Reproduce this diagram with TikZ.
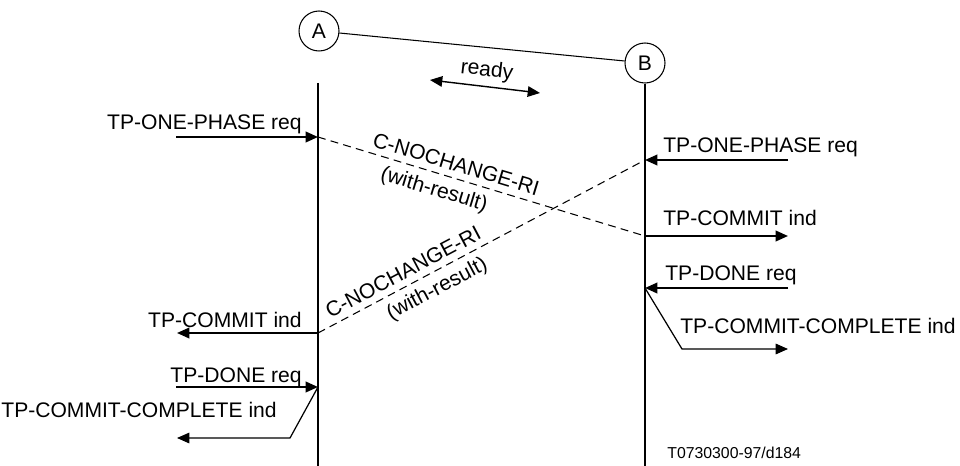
\documentclass[tikz,border=0pt]{standalone}
\usepackage{fontspec}
\setmainfont{Liberation Sans}
\usetikzlibrary{arrows.meta,positioning}
\tikzset{
  ent/.style={circle, draw, line width=0.6pt, minimum size=0.8cm, inner sep=0pt, font=\fontsize{12}{14}\selectfont},
  life/.style={line width=1.1pt},
  msg/.style={-{Triangle[length=7pt,width=6pt]}, line width=1.1pt},
  bent/.style={-{Triangle[length=7pt,width=6pt]}, line width=0.7pt},
  dsh/.style={line width=0.6pt, dash pattern=on 4.5pt off 3pt},
  lab/.style={font=\fontsize{12}{14}\selectfont, inner sep=0pt},
  slab/.style={font=\fontsize{12}{14}\selectfont, inner sep=1pt, sloped},
}
\begin{document}
\begin{tikzpicture}[x=0.02cm, y=-0.02cm]
 \useasboundingbox (0,0) rectangle (960,466);
 % entities and lifelines
 \node[ent] (A) at (319,31) {A};
 \node[ent] (B) at (645,63) {B};
 \draw[line width=0.6pt] (A) -- (B);
 \coordinate (Atop) at (318,83);
 \coordinate (Abot) at (318,466);
 \coordinate (Bbot) at (645,466);
 \draw[life] (Atop) -- (Abot);
 \draw[life] (B.south) -- (Bbot);
 % ready
 \coordinate (rdl) at (430,80);
 \coordinate (rdr) at (540,93);
 \draw[{Triangle[length=7pt,width=6pt]}-{Triangle[length=7pt,width=6pt]}, line width=0.8pt]
   (rdl) -- (rdr) node[midway, sloped, above=3pt, lab] (rdy) {ready};
 % points on lifelines
 \coordinate (l1) at (318,137);
 \coordinate (l2) at (318,333);
 \coordinate (l3) at (318,387);
 \coordinate (r1) at (645,160);
 \coordinate (r2) at (645,236);
 \coordinate (r3) at (645,288);
 % left side
 \coordinate (l1o) at (176,137);
 \coordinate (l2o) at (177,333);
 \coordinate (l3o) at (176,387);
 \coordinate (l4k) at (290,438);
 \coordinate (l4o) at (177,438);
 \draw[msg] (l1o) -- (l1);
 \draw[msg] (l2) -- (l2o);
 \draw[msg] (l3o) -- (l3);
 \draw[bent] (l3) -- (l4k) -- (l4o);
 \node[lab, anchor=base east] (t1) at (302,130) {TP-ONE-PHASE req};
 \node[lab, anchor=base east] (t2) at (302,327) {TP-COMMIT ind};
 \node[lab, anchor=base east] (t3) at (302,382) {TP-DONE req};
 \node[lab, anchor=base east] (t4) at (277,417) {TP-COMMIT-COMPLETE ind};
 % right side
 \coordinate (r1o) at (788,160);
 \coordinate (r2o) at (788,236);
 \coordinate (r3o) at (788,288);
 \coordinate (r4k) at (682,349);
 \coordinate (r4o) at (788,349);
 \draw[msg] (r1o) -- (r1);
 \draw[msg] (r2) -- (r2o);
 \draw[msg] (r3o) -- (r3);
 \draw[bent] (r3) -- (r4k) -- (r4o);
 \node[lab, anchor=base west] (u1) at (663,153) {TP-ONE-PHASE req};
 \node[lab, anchor=base west] (u2) at (663,225) {TP-COMMIT ind};
 \node[lab, anchor=base west] (u3) at (665,280) {TP-DONE req};
 \node[lab, anchor=base west] (u4) at (680,333) {TP-COMMIT-COMPLETE ind};
 % crossing results
 \draw[dsh] (l1) -- (r2)
   node[pos=0.41, slab, above=2.5pt] (c1) {C-NOCHANGE-RI}
   node[pos=0.37, slab, below=3pt] (w1) {(with-result)};
 \draw[dsh] (l2) -- (r1)
   node[pos=0.28, slab, above=2.5pt] (c2) {C-NOCHANGE-RI}
   node[pos=0.34, slab, below=3pt] (w2) {(with-result)};
 \node[anchor=base west, inner sep=0pt, font=\fontsize{9}{11}\selectfont] (ref) at (667,458) {T0730300-97/d184};
\end{tikzpicture}
\end{document}
